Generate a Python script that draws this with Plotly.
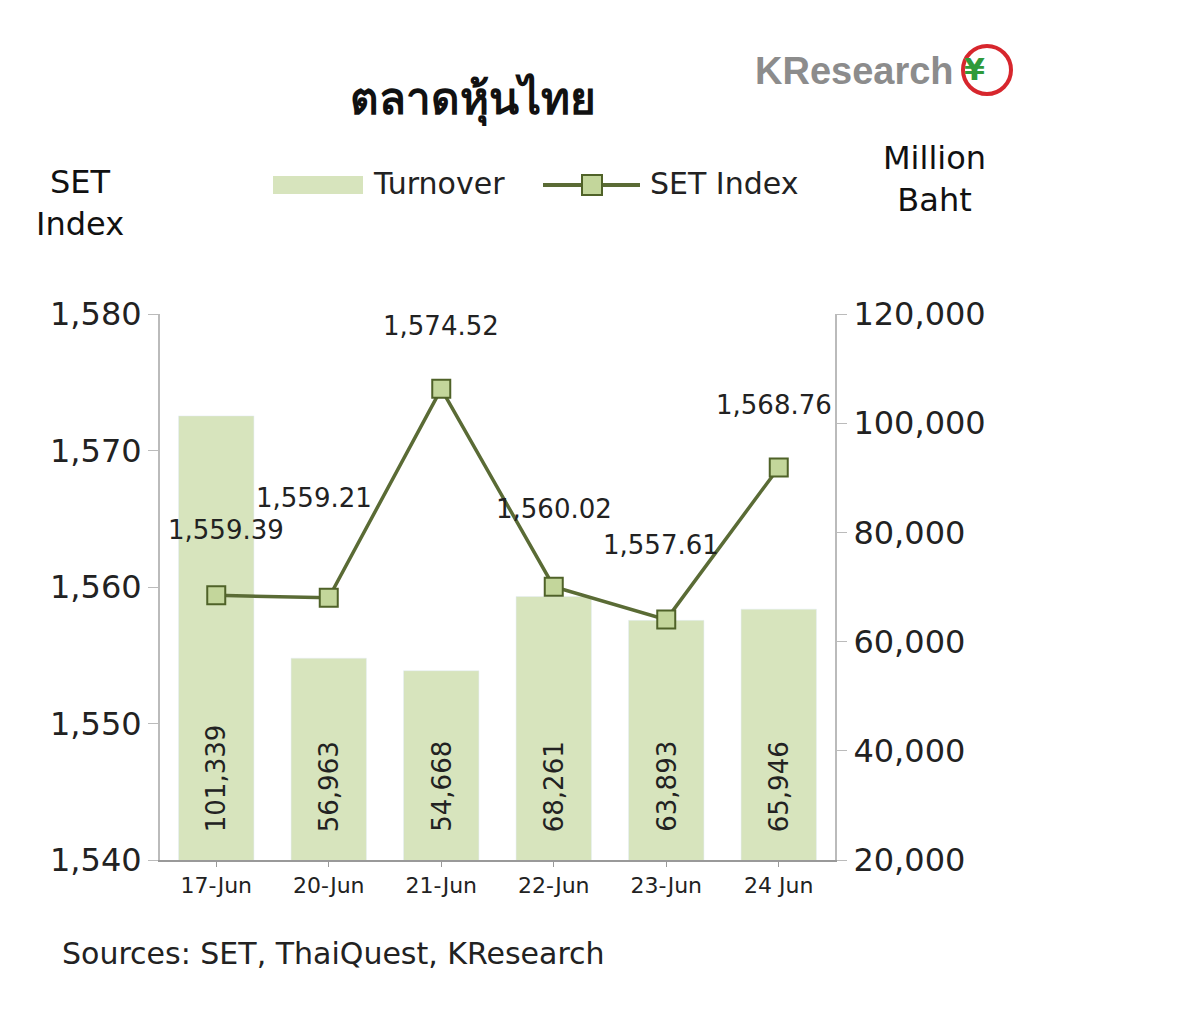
import plotly.graph_objects as go

dates = ["17-Jun", "20-Jun", "21-Jun", "22-Jun", "23-Jun", "24 Jun"]
turnover = [101339, 56963, 54668, 68261, 63893, 65946]
set_index = [1559.39, 1559.21, 1574.52, 1560.02, 1557.61, 1568.76]
idx_shift = [(10, 65), (-15, 100), (0, 63), (0, 78), (-5, 75), (-5, 62)]

F = "DejaVu Sans"
L, R, T, B = 152, 827, 306, 852
W, H = R - L, B - T
def px(x): return (x - L) / W
def py(y): return (B - (y - 8)) / H            # shapes
def pa(y): return (B - (y - 40.5) / 0.945) / H  # annotations

fig = go.Figure()
fig.add_trace(go.Bar(x=dates, y=turnover, yaxis="y", name="Turnover",
    marker=dict(color="#d7e4bd"), width=0.67))
fig.add_trace(go.Scatter(x=dates, y=set_index, yaxis="y2", name="SET Index", mode="lines+markers",
    line=dict(color="#5a6b35", width=3.5),
    marker=dict(symbol="square", size=18, color="#c3d69b", line=dict(color="#4f6228", width=2))))

for d, v in zip(dates, turnover):
    fig.add_annotation(x=d, y=20000, yref="y", text=f"{v:,}", showarrow=False, textangle=-90,
                       yanchor="bottom", yshift=26, font=dict(size=26, color="#222", family=F))
for d, v, (dx, dy) in zip(dates, set_index, idx_shift):
    fig.add_annotation(x=d, y=v, yref="y2", text=f"{v:,.2f}", showarrow=False, xshift=dx, yshift=dy,
                       font=dict(size=26, color="#222", family=F))

axis_common = dict(showgrid=False, showline=True, linecolor="#bbb", linewidth=2, ticks="outside",
                   tickcolor="#bbb", ticklen=10, tickfont=dict(size=32), tickformat=",")
fig.update_layout(
    width=1200, height=1025, plot_bgcolor="white", paper_bgcolor="white",
    margin=dict(l=L, r=1200 - R, t=T, b=1025 - B), barmode="overlay",
    font=dict(family=F, color="#222"), showlegend=False,
    xaxis=dict(showline=True, linecolor="#999", linewidth=2, ticks="outside", tickcolor="#999",
               tickfont=dict(size=22)),
    yaxis=dict(range=[20000, 120000], dtick=20000, side="right", **axis_common),
    yaxis2=dict(range=[1540, 1580], dtick=10, overlaying="y", side="left", **axis_common),
)
ann = [
    dict(text="<b>ตลาดหุ้นไทย</b>", x=465, y=100, size=44),
    dict(text="SET<br>Index", x=26, y=185, size=32),
    dict(text="Million<br>Baht", x=980, y=162, size=32),
]
for a in ann:
    fig.add_annotation(xref="paper", yref="paper", x=px(a["x"]), y=pa(a["y"]),
                       text=a["text"], showarrow=False, font=dict(size=a["size"], color="#111"))
fig.add_annotation(xref="paper", yref="paper", x=px(52), y=pa(952), xanchor="left",
                   text="Sources: SET, ThaiQuest, KResearch", showarrow=False, font=dict(size=30))
# legend
fig.add_shape(type="rect", xref="paper", yref="paper", x0=px(265), x1=px(355), y0=py(194), y1=py(176),
              fillcolor="#d7e4bd", line=dict(width=0))
fig.add_annotation(xref="paper", yref="paper", x=px(363), y=pa(188), xanchor="left",
                   text="Turnover", showarrow=False, font=dict(size=30))
fig.add_shape(type="line", xref="paper", yref="paper", x0=px(535), x1=px(632), y0=py(185), y1=py(185),
              line=dict(color="#5a6b35", width=4))
fig.add_shape(type="rect", xref="paper", yref="paper", x0=px(574), x1=px(594), y0=py(195), y1=py(175),
              fillcolor="#c3d69b", line=dict(color="#4f6228", width=2))
fig.add_annotation(xref="paper", yref="paper", x=px(640), y=pa(188), xanchor="left",
                   text="SET Index", showarrow=False, font=dict(size=30))
# logo
fig.add_annotation(xref="paper", yref="paper", x=px(948), y=pa(78), xanchor="right",
                   text="<b>KResearch</b>", showarrow=False,
                   font=dict(size=38, color="#8c8c8c", family="Liberation Sans"))
fig.add_shape(type="circle", xref="paper", yref="paper", x0=px(955), x1=px(1003),
              y0=py(94), y1=py(46), line=dict(color="#d7262d", width=4))
fig.add_annotation(xref="paper", yref="paper", x=px(979), y=pa(80),
                   text="<b>¥</b>", showarrow=False, font=dict(size=30, color="#2f9a3a"))
fig.write_html("out.html")
